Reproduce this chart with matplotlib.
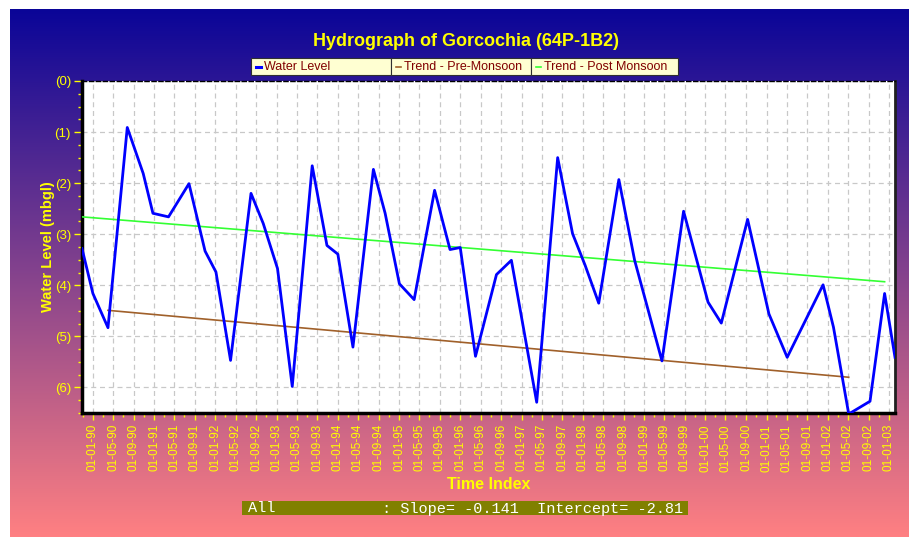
import numpy as np
import pandas as pd
import matplotlib
matplotlib.use('Agg')
import matplotlib.pyplot as plt
import matplotlib.dates as mdates
from matplotlib.ticker import MultipleLocator, FuncFormatter
from matplotlib.patches import Rectangle
from matplotlib.lines import Line2D

plt.rcParams['font.family'] = ['Liberation Sans', 'DejaVu Sans']

# water level observations (mbgl)
obs_dates = ['1989-10-28', '1990-01-01', '1990-04-01', '1990-07-25', '1990-10-28',
             '1990-12-25', '1991-03-28', '1991-07-28', '1991-11-01', '1992-01-05',
             '1992-04-01', '1992-08-01', '1992-10-13', '1993-01-06', '1993-04-04',
             '1993-08-01', '1993-10-28', '1994-01-01', '1994-04-01', '1994-08-01',
             '1994-10-10', '1995-01-03', '1995-04-01', '1995-08-01', '1995-11-01',
             '1996-01-01', '1996-04-01', '1996-08-04', '1996-11-01', '1997-04-01',
             '1997-08-04', '1997-11-01', '1998-01-15', '1998-04-06', '1998-08-04',
             '1998-11-06', '1999-04-18', '1999-08-25', '2000-01-18', '2000-04-06',
             '2000-09-10', '2001-01-15', '2001-05-04', '2001-12-04', '2002-02-04',
             '2002-05-06', '2002-09-10', '2002-12-06', '2003-02-06']
water_level = [3.28, 4.16, 4.83, 0.91, 1.81, 2.59, 2.66, 2.01, 3.33, 3.74,
               5.47, 2.20, 2.79, 3.67, 5.98, 1.66, 3.22, 3.39, 5.21, 1.73,
               2.59, 3.97, 4.28, 2.14, 3.30, 3.26, 5.39, 3.79, 3.51, 6.29,
               1.50, 2.99, 3.61, 4.35, 1.93, 3.51, 5.48, 2.55, 4.33, 4.74,
               2.71, 4.56, 5.41, 3.99, 4.82, 6.52, 6.27, 4.16, 5.41]

# trend lines (end points)
pre_dates = ['1990-04-01', '2002-05-06']
pre_vals = [4.49, 5.80]
post_dates = ['1989-10-28', '2002-12-06']
post_vals = [2.66, 3.93]

legend_labels = ['Water Level', 'Trend - Pre-Monsoon', 'Trend - Post Monsoon']
stats_text = ['All', ': Slope= -0.141  Intercept= -2.81']

YELLOW = '#ffff00'
BLUE = '#0000ff'
BROWN = '#a0602a'
GREEN = '#33ff33'

W, H = 909, 537
fig = plt.figure(figsize=(W / 100, H / 100), dpi=100)
fig.patch.set_facecolor('white')

# gradient background panel
bg = fig.add_axes([10 / W, 0, (W - 10) / W, (H - 9) / H])
bg.axis('off')
top = np.array([10, 5, 152]) / 255.
bot = np.array([255, 128, 130]) / 255.
t = np.linspace(0, 1, 256)[:, None]
grad = (top[None, :] * (1 - t) + bot[None, :] * t)[:, None, :]
bg.imshow(grad, aspect='auto', extent=[0, 1, 0, 1], interpolation='bilinear')
bg.set_xlim(0, 1)
bg.set_ylim(0, 1)

# main plot
ax = fig.add_axes([82 / W, (H - 413) / H, (895 - 82) / W, (413 - 81) / H])
ax.set_facecolor('white')

d = pd.to_datetime(obs_dates)
ax.plot(d, water_level, color=BLUE, lw=2.0, zorder=4)
ax.plot(pd.to_datetime(pre_dates), pre_vals, color=BROWN, lw=1.2, zorder=3)
ax.plot(pd.to_datetime(post_dates), post_vals, color=GREEN, lw=1.2, zorder=3)

ax.set_xlim(d[0], d[-1])
ax.set_ylim(6.5, 0)

ax.yaxis.set_major_locator(MultipleLocator(1))
ax.yaxis.set_minor_locator(MultipleLocator(0.25))
ax.yaxis.set_major_formatter(FuncFormatter(lambda v, p: '(%d)' % round(v)))
ax.xaxis.set_major_locator(mdates.MonthLocator(bymonth=[1, 5, 9]))
ax.xaxis.set_minor_locator(mdates.MonthLocator(bymonth=[3, 7, 11]))
ax.xaxis.set_major_formatter(mdates.DateFormatter('%d-%m-%y'))

ax.grid(True, which='major', color='#c8c8c8', linestyle=(0, (4, 3)), lw=0.9)
ax.tick_params(axis='both', which='both', colors=YELLOW, direction='out')
ax.tick_params(axis='y', which='major', length=6, width=1, labelsize=9.5, pad=2)
ax.tick_params(axis='y', which='minor', length=3, width=1)
ax.tick_params(axis='x', which='major', length=5, width=1, labelsize=8.5, pad=3,
               labelrotation=90)
ax.tick_params(axis='x', which='minor', length=3, width=1)

for s in ['left', 'bottom']:
    ax.spines[s].set_color('black')
    ax.spines[s].set_linewidth(2.5)
ax.spines['right'].set_color('#202020')
ax.spines['right'].set_linewidth(2)
ax.spines['top'].set_color('black')
ax.spines['top'].set_linestyle((0, (3, 2)))
ax.spines['top'].set_linewidth(1)

ax.set_ylabel('Water Level (mbgl)', color=YELLOW, fontsize=10.5, fontweight='bold', labelpad=0)
ax.set_xlabel('Time Index', color=YELLOW, fontsize=11.5, fontweight='bold', labelpad=4)

# overlay for title, legend and stats box, in pixel units
ov = fig.add_axes([0, 0, 1, 1], zorder=10)
ov.set_xlim(0, W)
ov.set_ylim(H, 0)
ov.axis('off')

ov.text(466, 41, 'Hydrograph of Gorcochia (64P-1B2)', color=YELLOW, fontsize=13,
        fontweight='bold', ha='center', va='center')

cells = [(251, 391), (391, 531), (531, 678)]
line_cols = [BLUE, BROWN, GREEN]
for (x0, x1), lab, c in zip(cells, legend_labels, line_cols):
    ov.add_patch(Rectangle((x0, 57.5), x1 - x0, 17.5, facecolor='#ffffd2',
                           edgecolor='#303030', lw=0.8))
    ov.add_line(Line2D([x0 + 5, x0 + 10], [66.5, 66.5], color=c,
                       lw=2.2 if c == BLUE else 1.2))
    ov.text(x0 + 13, 70.5, lab, color='#800000', fontsize=9, ha='left', va='baseline')

ov.add_patch(Rectangle((242, 501), 446, 14, facecolor='#808000', edgecolor='none'))
ov.text(248, 512.5, stats_text[0], color='white', fontsize=11,
        family='Liberation Mono', ha='left', va='baseline')
ov.text(382, 512.5, stats_text[1], color='white', fontsize=11,
        family='Liberation Mono', ha='left', va='baseline')

fig.savefig('out.png', dpi=100)
